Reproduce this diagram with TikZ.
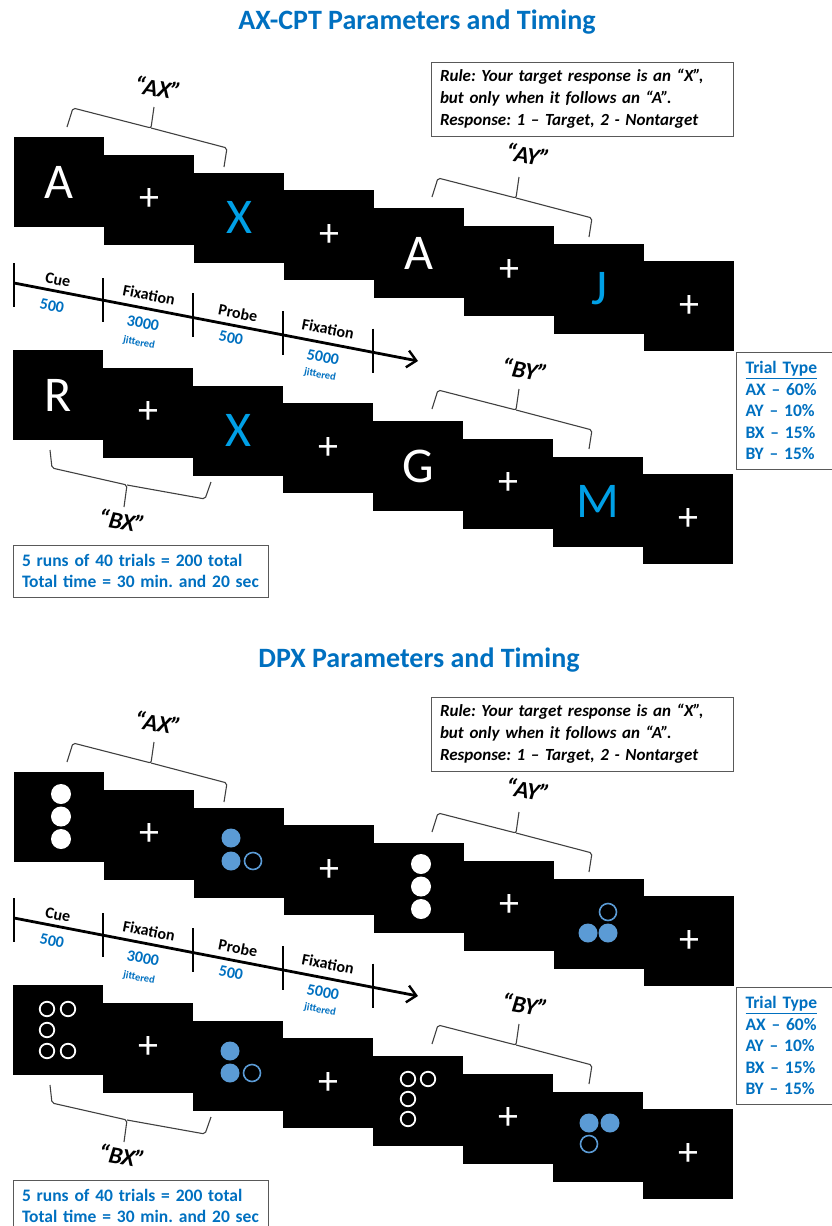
\documentclass[tikz,border=0pt]{standalone}
\usepackage{fontspec}
\setmainfont{Carlito}
\frenchspacing
\usepackage{xcolor}
\definecolor{TxtBlue}{RGB}{0,112,192}
\definecolor{LetBlue}{RGB}{0,160,230}
\definecolor{DotBlue}{RGB}{91,155,213}
\usepackage{tikz}
\usetikzlibrary{shapes}
\usetikzlibrary{arrows.meta}
\tikzstyle{Panel}=[rectangle,fill=black,minimum width=90pt,minimum height=90pt,
inner sep=0pt,text=white,font=\fontsize{50}{50}\selectfont]
\tikzstyle{Cross}=[font=\fontsize{40}{40}\selectfont]
\tikzstyle{Probe}=[text=LetBlue]
\tikzstyle{DotW}=[circle,fill=white,minimum size=20pt,inner sep=0pt]
\tikzstyle{RingW}=[circle,draw=white,line width=1.8pt,minimum size=14.5pt,inner sep=0pt]
\tikzstyle{DotB}=[circle,fill=DotBlue,minimum size=19pt,inner sep=0pt]
\tikzstyle{RingB}=[circle,draw=DotBlue,line width=1.6pt,minimum size=17pt,inner sep=0pt]
\tikzstyle{Title}=[text=TxtBlue,font=\fontsize{28}{28}\selectfont\bfseries]
\tikzstyle{Pair}=[font=\fontsize{24}{24}\selectfont\bfseries\itshape,rotate=-10]
\tikzstyle{Brace}=[draw=black!75,line width=1.1pt,rounded corners=2pt]
\tikzstyle{Axis}=[draw=black,line width=2.8pt,-{Straight Barb[length=9pt,width=17pt,line width=2.4pt]}]
\tikzstyle{Tick}=[draw=black,line width=2.4pt]
\tikzstyle{Phase}=[font=\fontsize{16}{16}\selectfont\bfseries,rotate=-11]
\tikzstyle{Dur}=[text=TxtBlue,font=\fontsize{16}{16}\selectfont\bfseries,rotate=-11]
\tikzstyle{Jit}=[text=TxtBlue,font=\fontsize{10.5}{10.5}\selectfont\bfseries,rotate=-11]
\tikzstyle{RuleBox}=[draw=black!65,line width=1pt,inner xsep=9pt,inner ysep=6pt,
text width=284pt,minimum height=74pt,align=left,
font=\fontsize{17}{22}\selectfont\bfseries\itshape]
\tikzstyle{InfoBox}=[draw=black!65,line width=1pt,inner xsep=9pt,align=left,
text=TxtBlue,font=\fontsize{17.5}{21.5}\selectfont\bfseries]

\begin{document}
\begin{tikzpicture}[x=1pt,y=-1pt]
    \useasboundingbox(0,0)rectangle(832,1226);
    \clip(0,0)rectangle(832,1226);
    % AX-CPT
    \node[Title](t1)at(417,22){AX-CPT Parameters and Timing};
    \node[Panel](a1)at(59,182){A};
    \node[Panel,Cross](a2)at(149,199.75){+};
    \node[Panel,Probe](a3)at(239,217.5){X};
    \node[Panel,Cross](a4)at(329,235.25){+};
    \node[Panel](a5)at(419,253){A};
    \node[Panel,Cross](a6)at(509,270.75){+};
    \node[Panel,Probe](a7)at(599,288.5){J};
    \node[Panel,Cross](a8)at(689,306.25){+};
    \node[Panel](b1)at(58,395){R};
    \node[Panel,Cross](b2)at(148,412.75){+};
    \node[Panel,Probe](b3)at(238,430.5){X};
    \node[Panel,Cross](b4)at(328,448.25){+};
    \node[Panel](b5)at(418,466){G};
    \node[Panel,Cross](b6)at(508,483.75){+};
    \node[Panel,Probe](b7)at(598,501.5){M};
    \node[Panel,Cross](b8)at(688,519.25){+};
    \draw[Brace](67,127)--(73,108)--(151,128)--(154,107);
    \draw[Brace](151,128)--(227,148)--(224,167);
    \node[Pair](ax1)at(158,88){“AX”};
    \draw[Brace](432,197)--(438,178)--(516,198)--(519,177);
    \draw[Brace](516,198)--(592,218)--(589,237);
    \node[Pair](ay1)at(528,155){“AY”};
    \draw[Brace](432,409)--(438,390)--(516,410)--(519,389);
    \draw[Brace](516,410)--(592,430)--(589,449);
    \node[Pair](by1)at(525,370){“BY”};
    \draw[Brace](50,450)--(52,468)--(127,485)--(124,507);
    \draw[Brace](127,485)--(205,499)--(211,482);
    \node[Pair](bx1)at(122,521){“BX”};
    \coordinate(s1)at(14,283);
    \coordinate(e1)at(418,361);
    \draw[Axis](s1)--(e1);
    \coordinate(k11)at(14,285);
    \coordinate(k12)at(103,300);
    \coordinate(k13)at(193,315);
    \coordinate(k14)at(283,333);
    \coordinate(k15)at(373,350.5);
    \draw[Tick]([yshift=22pt]k11)--([yshift=-22pt]k11);
    \draw[Tick]([yshift=22pt]k12)--([yshift=-22pt]k12);
    \draw[Tick]([yshift=22pt]k13)--([yshift=-22pt]k13);
    \draw[Tick]([yshift=22pt]k14)--([yshift=-22pt]k14);
    \draw[Tick]([yshift=22pt]k15)--([yshift=-22pt]k15);
    \node[Phase](cue1)at(58,280){Cue};
    \node[Dur](d11)at(52,306){500};
    \node[Phase](fix11)at(149,295){Fixation};
    \node[Dur](d12)at(143,323){3000};
    \node[Jit](j11)at(139,343){jittered};
    \node[Phase](pr1)at(238,313){Probe};
    \node[Dur](d13)at(231,338){500};
    \node[Phase](fix12)at(328,329){Fixation};
    \node[Dur](d14)at(323,357){5000};
    \node[Jit](j12)at(320,375){jittered};
    \node[RuleBox](rule1)at(582,99){Rule: Your target response is an “X”,\\
    but only when it follows an “A”.\\Response: 1 – Target, 2 - Nontarget};
    \node[InfoBox,text width=90pt,minimum height=117pt,anchor=west](type1)at(736,410.5)
    {\underline{Trial Type}\\AX – 60\%\\AY – 10\%\\BX – 15\%\\BY – 15\%};
    \node[InfoBox,text width=237pt,minimum height=52pt](runs1)at(140.5,571)
    {5 runs of 40 trials = 200 total\\Total time = 30 min. and 20 sec};
    % DPX
    \node[Title](t2)at(419,660){DPX Parameters and Timing};
    \node[Panel](c1)at(59,817){};
    \node[Panel,Cross](c2)at(149,834.75){+};
    \node[Panel](c3)at(239,852.5){};
    \node[Panel,Cross](c4)at(329,870.25){+};
    \node[Panel](c5)at(419,888){};
    \node[Panel,Cross](c6)at(509,905.75){+};
    \node[Panel](c7)at(599,923.5){};
    \node[Panel,Cross](c8)at(689,941.25){+};
    \node[Panel](d1)at(58,1030){};
    \node[Panel,Cross](d2)at(148,1047.75){+};
    \node[Panel](d3)at(238,1065.5){};
    \node[Panel,Cross](d4)at(328,1083.25){+};
    \node[Panel](d5)at(418,1101){};
    \node[Panel,Cross](d6)at(508,1118.75){+};
    \node[Panel](d7)at(598,1136.5){};
    \node[Panel,Cross](d8)at(688,1154.25){+};
    \node[DotW](c1a)at(61,794){};
    \node[DotW](c1b)at(61,816.5){};
    \node[DotW](c1c)at(61,839){};
    \node[DotB](c3a)at(231,838){};
    \node[DotB](c3b)at(231,861){};
    \node[RingB](c3c)at(253,861){};
    \node[DotW](c5a)at(421,864){};
    \node[DotW](c5b)at(421,886.5){};
    \node[DotW](c5c)at(421,909){};
    \node[RingB](c7a)at(608,912){};
    \node[DotB](c7b)at(588,933){};
    \node[DotB](c7c)at(608,933){};
    \node[RingW](d1a)at(47,1009){};
    \node[RingW](d1b)at(68,1009){};
    \node[RingW](d1c)at(47,1030){};
    \node[RingW](d1d)at(47,1051){};
    \node[RingW](d1e)at(68,1051){};
    \node[DotB](d3a)at(230,1051){};
    \node[DotB](d3b)at(230,1073){};
    \node[RingB](d3c)at(252,1073){};
    \node[RingW](d5a)at(408,1079){};
    \node[RingW](d5b)at(428,1079){};
    \node[RingW](d5c)at(408,1099){};
    \node[RingW](d5d)at(408,1119){};
    \node[DotB](d7a)at(589,1123){};
    \node[DotB](d7b)at(610,1123){};
    \node[RingB](d7c)at(589,1144){};
    \draw[Brace](67,762)--(73,743)--(151,763)--(154,742);
    \draw[Brace](151,763)--(227,783)--(224,802);
    \node[Pair](ax2)at(158,723){“AX”};
    \draw[Brace](432,832)--(438,813)--(516,833)--(519,812);
    \draw[Brace](516,833)--(592,853)--(589,872);
    \node[Pair](ay2)at(528,790){“AY”};
    \draw[Brace](432,1044)--(438,1025)--(516,1045)--(519,1024);
    \draw[Brace](516,1045)--(592,1065)--(589,1084);
    \node[Pair](by2)at(525,1005){“BY”};
    \draw[Brace](50,1085)--(52,1103)--(127,1120)--(124,1142);
    \draw[Brace](127,1120)--(205,1134)--(211,1117);
    \node[Pair](bx2)at(122,1156){“BX”};
    \coordinate(s2)at(14,918);
    \coordinate(e2)at(418,996);
    \draw[Axis](s2)--(e2);
    \coordinate(k21)at(14,920);
    \coordinate(k22)at(103,935);
    \coordinate(k23)at(193,950);
    \coordinate(k24)at(283,968);
    \coordinate(k25)at(373,985.5);
    \draw[Tick]([yshift=22pt]k21)--([yshift=-22pt]k21);
    \draw[Tick]([yshift=22pt]k22)--([yshift=-22pt]k22);
    \draw[Tick]([yshift=22pt]k23)--([yshift=-22pt]k23);
    \draw[Tick]([yshift=22pt]k24)--([yshift=-22pt]k24);
    \draw[Tick]([yshift=22pt]k25)--([yshift=-22pt]k25);
    \node[Phase](cue2)at(58,915){Cue};
    \node[Dur](d21)at(52,941){500};
    \node[Phase](fix21)at(149,931){Fixation};
    \node[Dur](d22)at(143,958){3000};
    \node[Jit](j21)at(139,978){jittered};
    \node[Phase](pr2)at(238,948){Probe};
    \node[Dur](d23)at(231,973){500};
    \node[Phase](fix22)at(328,964){Fixation};
    \node[Dur](d24)at(323,992){5000};
    \node[Jit](j22)at(320,1010){jittered};
    \node[RuleBox](rule2)at(582,734){Rule: Your target response is an “X”,\\
    but only when it follows an “A”.\\Response: 1 – Target, 2 - Nontarget};
    \node[InfoBox,text width=90pt,minimum height=117pt,anchor=west](type2)at(736,1045.5)
    {\underline{Trial Type}\\AX – 60\%\\AY – 10\%\\BX – 15\%\\BY – 15\%};
    \node[InfoBox,text width=237pt,minimum height=52pt](runs2)at(140.5,1206)
    {5 runs of 40 trials = 200 total\\Total time = 30 min. and 20 sec};
\end{tikzpicture}
\end{document}
